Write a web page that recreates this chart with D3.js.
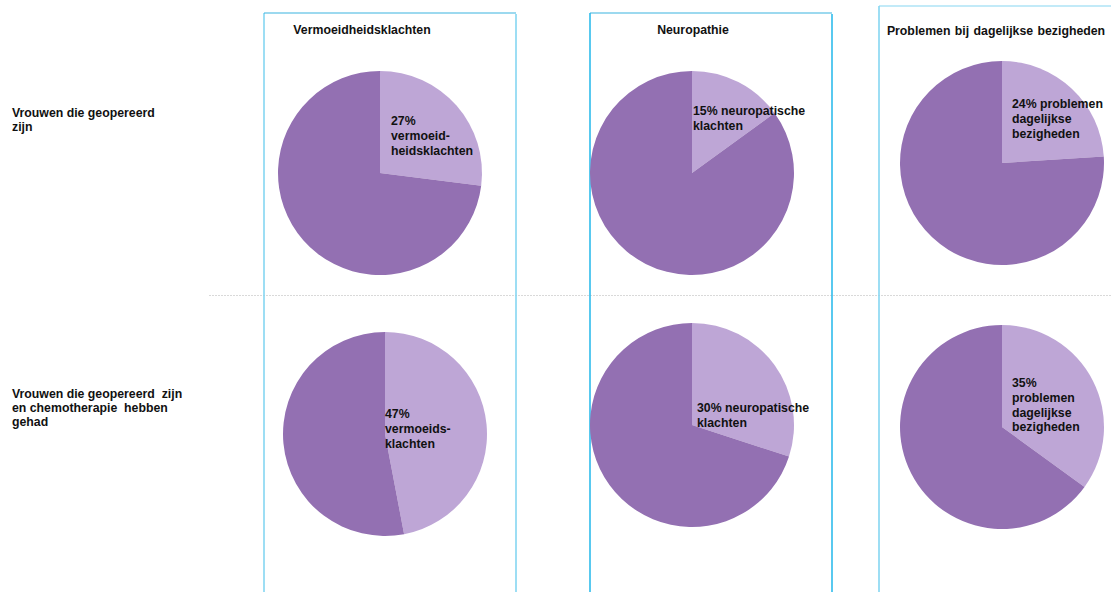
<!DOCTYPE html>
<html>
<head>
<meta charset="utf-8">
<script src="https://cdn.jsdelivr.net/npm/d3@7"></script>
<style>
  html,body{margin:0;padding:0;background:#fff;}
  svg{display:block;}
  text{font-family:'Liberation Sans',Arial,sans-serif;font-weight:bold;font-size:12.3px;fill:#111;white-space:pre;}
</style>
</head>
<body>
<div id="chart"></div>
<script>
// data
const columns = ['Vermoeidheidsklachten', 'Neuropathie', 'Problemen bij dagelijkse bezigheden'];
const rows = [['Vrouwen die geopereerd', 'zijn'], ['Vrouwen die geopereerd  zijn', 'en chemotherapie  hebben', 'gehad']];
const valuesOperated = [27, 15, 24];
const valuesChemo = [47, 30, 35];
const labelsOperated = [['27%', 'vermoeid-', 'heidsklachten'], ['15% neuropatische', 'klachten'], ['24% problemen', 'dagelijkse', 'bezigheden']];
const labelsChemo = [['47%', 'vermoeids-', 'klachten'], ['30% neuropatische', 'klachten'], ['35%', 'problemen', 'dagelijkse', 'bezigheden']];

const COL = {dark:'#9370b2', light:'#bea6d6', frame:'#85d6f2', frameDark:'#2fbcec', sep:'#d9d9d9'};
const W = 1111, H = 592, R = 102;

// layout: pie centres + label anchor (dx, first baseline dy) per cell
const layout = [
  [{cx:380, cy:173, lx:11, ly:-48}, {cx:692, cy:173, lx:1, ly:-58}, {cx:1002, cy:163, lx:10, ly:-55}],
  [{cx:385, cy:434, lx:0, ly:-16}, {cx:692, cy:425, lx:5, ly:-13}, {cx:1002, cy:427, lx:10, ly:-40}]
];

const svg = d3.select('#chart').append('svg').attr('width', W).attr('height', H);

// separator
svg.append('line').attr('x1', 209).attr('x2', W).attr('y1', 295.5).attr('y2', 295.5)
  .attr('stroke', COL.sep).attr('stroke-width', 1).attr('stroke-dasharray', '2 1');

// frames
const frames = [
  {x1:264, x2:516, top:13, lc:COL.frame, rc:COL.frame, tc:'#3ab4e0'},
  {x1:590, x2:832, top:13, lc:COL.frameDark, rc:COL.frameDark, tc:'#3ab4e0'},
  {x1:879, x2:null, top:6, lc:COL.frame, rc:null, tc:COL.frame}
];
frames.forEach(f => {
  svg.append('line').attr('x1', f.x1).attr('x2', f.x1).attr('y1', f.top).attr('y2', H)
    .attr('stroke', f.lc).attr('stroke-width', 1.6);
  if (f.x2 != null) svg.append('line').attr('x1', f.x2).attr('x2', f.x2).attr('y1', f.top + 1).attr('y2', H)
    .attr('stroke', f.rc).attr('stroke-width', 1.6);
  svg.append('line').attr('x1', f.x1).attr('x2', f.x2 == null ? W : f.x2).attr('y1', f.top).attr('y2', f.top)
    .attr('stroke', f.tc).attr('stroke-width', 1.2);
});

// column headers
const headerX = [362, 693, 996];
svg.selectAll('text.head').data(columns).join('text').attr('class', 'head')
  .attr('x', (d, i) => headerX[i]).attr('y', (d, i) => i === 2 ? 35 : 34)
  .attr('text-anchor', 'middle').attr('word-spacing', (d, i) => i === 2 ? 1 : 0).text(d => d);

// row labels
const rowY = [117, 398];
rows.forEach((lines, r) => {
  const t = svg.append('text').attr('x', 12).attr('y', rowY[r]);
  lines.forEach((l, k) => t.append('tspan').attr('x', 12).attr('dy', k ? 14 : 0).text(l));
});

// pies
const pie = d3.pie().sort(null).value(d => d);
const arc = d3.arc().innerRadius(0).outerRadius(R);
[[valuesOperated, labelsOperated], [valuesChemo, labelsChemo]].forEach(([vals, labs], r) => {
  vals.forEach((v, c) => {
    const L = layout[r][c];
    const g = svg.append('g').attr('transform', `translate(${L.cx},${L.cy})`);
    g.selectAll('path').data(pie([v, 100 - v])).join('path')
      .attr('d', arc).attr('fill', (d, i) => i === 0 ? COL.light : COL.dark);
    const t = g.append('text').attr('x', L.lx).attr('y', L.ly);
    labs[c].forEach((l, k) => t.append('tspan').attr('x', L.lx).attr('dy', k ? 14.8 : 0).text(l));
  });
});
</script>
</body>
</html>
